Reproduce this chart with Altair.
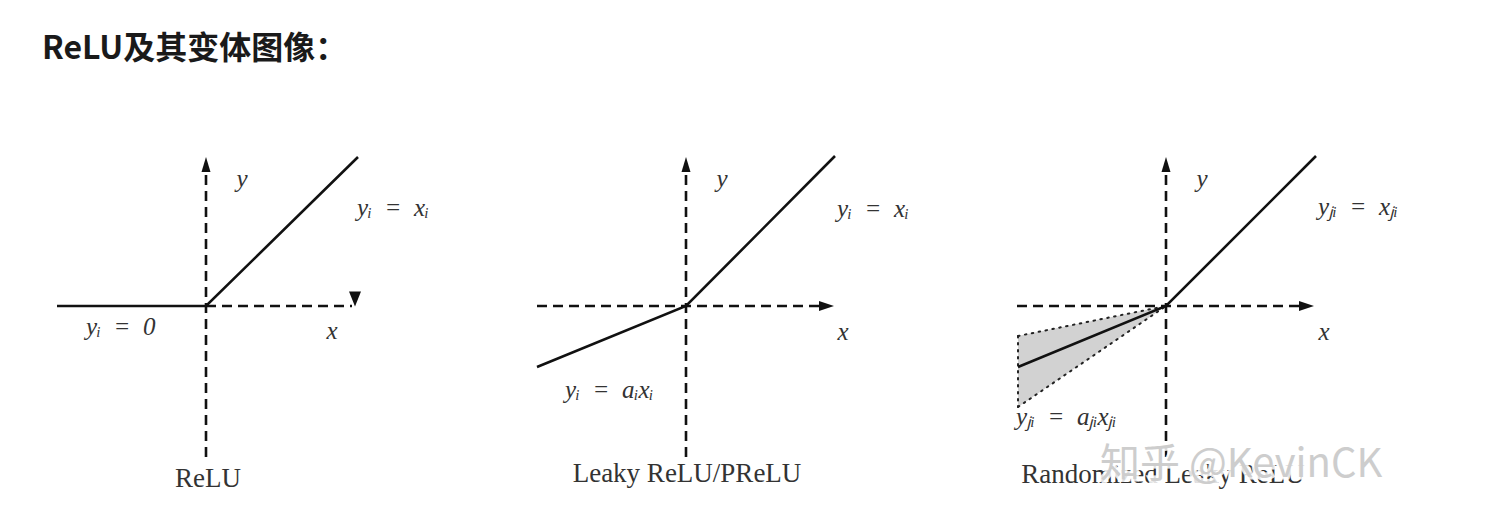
import altair as alt
import pandas as pd

# ---------------- data ----------------
TITLE = "ReLU及其变体图像："
PANEL_NAMES = ["ReLU", "Leaky ReLU/PReLU", "Randomized Leaky ReLU"]

# solid activation curves (x, y) per panel
LINE_X = [[-1.49, 0.0, 1.52], [-1.49, 0.0, 1.49], [-1.48, 0.0, 1.50]]
LINE_Y = [[0.0, 0.0, 1.49], [-0.61, 0.0, 1.50], [-0.61, 0.0, 1.50]]

# dashed coordinate axes
XAXIS_START = [0.0, -1.49, -1.49]
XAXIS_END = [1.46, 1.36, 1.36]
YAXIS_START = -1.51
YAXIS_END = 1.36

# arrow heads: (x, y, kind)
ARROWS = [
    [(0.0, 1.415, "up"), (1.49, 0.07, "down")],
    [(0.0, 1.415, "up"), (1.405, 0.0, "right")],
    [(0.0, 1.415, "up"), (1.405, 0.0, "right")],
]

# RReLU random slope band (panel 3)
BAND_X = [-1.48, 0.0]
BAND_UPPER = [-0.30, 0.0]
BAND_LOWER = [-1.01, 0.0]

# labels
AXIS_Y_LABEL = (0.36, 1.27)
AXIS_X_LABEL = [(1.26, -0.25), (1.57, -0.26), (1.58, -0.26)]
POS_LABELS = ["yᵢ\u2002=\u2002xᵢ", "yᵢ\u2002=\u2002xᵢ", "yⱼᵢ\u2002=\u2002xⱼᵢ"]
POS_LABEL_XY = [(1.51, 0.98), (1.51, 0.97), (1.52, 0.99)]
NEG_LABELS = ["yᵢ\u2002=\u20020", "yᵢ\u2002=\u2002aᵢxᵢ", "yⱼᵢ\u2002=\u2002aⱼᵢxⱼᵢ"]
NEG_LABEL_XY = [(-1.20, -0.21), (-1.21, -0.84), (-1.50, -1.11)]
NAME_XY = [(0.02, -1.73), (0.01, -1.68), (-0.03, -1.69)]
WATERMARK = "知乎 @KevinCK"
WATERMARK_XY = (-0.66, -1.59)

# ---------------- styling ----------------
X_DOMAIN = [-1.96, 2.84]
Y_DOMAIN = [-2.04, 1.66]
PANEL_W, PANEL_H = 480, 370
INK = "#111111"
TEXT = "#333333"
SERIF = "Liberation Serif"
ARROW_PATHS = {
    "up": "M0,-1L0.6,1L-0.6,1Z",
    "right": "M1,0L-1,-0.67L-1,0.67Z",
    "down": "M-0.8,-1L0.8,-1L0,1Z",
}

xs = alt.Scale(domain=X_DOMAIN, nice=False, zero=False)
ys = alt.Scale(domain=Y_DOMAIN, nice=False, zero=False)


def X(f="x"):
    return alt.X(f"{f}:Q", scale=xs, axis=None)


def Y(f="y"):
    return alt.Y(f"{f}:Q", scale=ys, axis=None)


def panel(i):
    layers = []

    if i == 2:
        band = pd.DataFrame({"x": BAND_X, "upper": BAND_UPPER, "lower": BAND_LOWER})
        layers.append(
            alt.Chart(band).mark_area(color="#d2d2d2", opacity=1).encode(
                x=X(), y=Y("upper"), y2=alt.Y2("lower:Q")
            )
        )
        segs = pd.DataFrame({
            "x": [BAND_X[0], BAND_X[0], BAND_X[0]],
            "y": [BAND_UPPER[0], BAND_LOWER[0], BAND_UPPER[0]],
            "x2": [BAND_X[1], BAND_X[1], BAND_X[0]],
            "y2": [BAND_UPPER[1], BAND_LOWER[1], BAND_LOWER[0]],
        })
        layers.append(
            alt.Chart(segs).mark_rule(
                color="#222222", strokeWidth=2, strokeDash=[1.6, 5.4], strokeCap="round"
            ).encode(x=X(), y=Y(), x2=alt.X2("x2:Q"), y2=alt.Y2("y2:Q"))
        )

    axes = pd.DataFrame({
        "x": [XAXIS_START[i], 0.0],
        "y": [0.0, YAXIS_START],
        "x2": [XAXIS_END[i], 0.0],
        "y2": [0.0, YAXIS_END],
    })
    layers.append(
        alt.Chart(axes).mark_rule(color=INK, strokeWidth=2.6, strokeDash=[10, 6]).encode(
            x=X(), y=Y(), x2=alt.X2("x2:Q"), y2=alt.Y2("y2:Q")
        )
    )

    arrows = pd.DataFrame(
        [{"x": a[0], "y": a[1], "shape": ARROW_PATHS[a[2]]} for a in ARROWS[i]]
    )
    layers.append(
        alt.Chart(arrows).mark_point(filled=True, color=INK, opacity=1, size=225).encode(
            x=X(), y=Y(), shape=alt.Shape("shape:N", scale=None)
        )
    )

    line = pd.DataFrame({"x": LINE_X[i], "y": LINE_Y[i], "o": list(range(len(LINE_X[i])))})
    layers.append(
        alt.Chart(line).mark_line(color=INK, strokeWidth=2.6).encode(
            x=X(), y=Y(), order="o:O"
        )
    )

    math = pd.DataFrame({
        "x": [AXIS_Y_LABEL[0], AXIS_X_LABEL[i][0], POS_LABEL_XY[i][0], NEG_LABEL_XY[i][0]],
        "y": [AXIS_Y_LABEL[1], AXIS_X_LABEL[i][1], POS_LABEL_XY[i][1], NEG_LABEL_XY[i][1]],
        "t": ["y", "x", POS_LABELS[i], NEG_LABELS[i]],
        "a": ["center", "center", "left", "left"],
    })
    for align in ["center", "left"]:
        layers.append(
            alt.Chart(math[math.a == align]).mark_text(
                font=SERIF, fontStyle="italic", fontSize=25, color=TEXT,
                align=align, baseline="middle"
            ).encode(x=X(), y=Y(), text="t:N")
        )

    name = pd.DataFrame({"x": [NAME_XY[i][0]], "y": [NAME_XY[i][1]], "t": [PANEL_NAMES[i]]})
    layers.append(
        alt.Chart(name).mark_text(
            font=SERIF, fontSize=27, color=TEXT, align="center", baseline="middle"
        ).encode(x=X(), y=Y(), text="t:N")
    )

    if i == 2:
        wm = pd.DataFrame({"x": [WATERMARK_XY[0]], "y": [WATERMARK_XY[1]], "t": [WATERMARK]})
        layers.append(
            alt.Chart(wm).mark_text(
                font="Noto Sans CJK SC", fontSize=40, color="white", stroke="white",
                strokeWidth=5, align="left", baseline="middle", opacity=0.85
            ).encode(x=X(), y=Y(), text="t:N")
        )
        layers.append(
            alt.Chart(wm).mark_text(
                font="Noto Sans CJK SC", fontSize=40, color="#cdcdcd",
                align="left", baseline="middle"
            ).encode(x=X(), y=Y(), text="t:N")
        )

    return alt.layer(*layers).properties(width=PANEL_W, height=PANEL_H)


chart = alt.hconcat(*[panel(i) for i in range(3)], spacing=0).properties(
    title=alt.TitleParams(
        TITLE, anchor="start", fontSize=32, font="Noto Sans CJK SC", fontWeight="bold",
        color="#1a1a1a", dx=32, offset=74
    ),
    padding={"left": 2, "top": 25, "right": 0, "bottom": 0},
    background="white",
).configure_view(strokeWidth=0, stroke="transparent")

chart.save("out.html", embed_options={"renderer": "svg", "actions": False})
